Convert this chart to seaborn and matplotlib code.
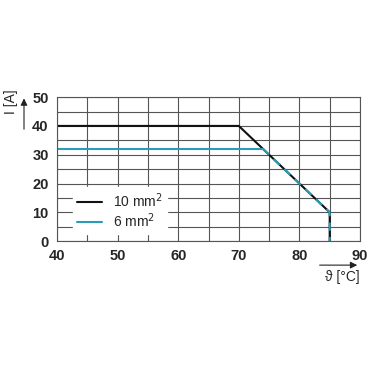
import pandas as pd
import matplotlib.pyplot as plt
import seaborn as sns

# derating curves: temperature [°C] vs current [A]
temp_10 = [40, 70, 85, 85]
curr_10 = [40, 40, 10, 0]
temp_6 = [40, 74, 85, 85]
curr_6 = [32, 32, 10, 0]
labels = ['10 mm$^2$', '6 mm$^2$']
xticks = [40, 50, 60, 70, 80, 90]
yticks = [0, 10, 20, 30, 40, 50]

sns.set_style('white')
plt.rcParams['font.family'] = ['Liberation Sans', 'DejaVu Sans']

black = '#111111'
blue = '#2a9bb8'

d10 = pd.DataFrame({'t': temp_10, 'i': curr_10})
d6 = pd.DataFrame({'t': temp_6, 'i': curr_6})

fig = plt.figure(figsize=(3.75, 3.75), dpi=100)
ax = fig.add_axes([0.152, 0.357, 0.808, 0.384])

sns.lineplot(data=d10, x='t', y='i', sort=False, estimator=None, color=black, lw=1.5,
             ax=ax, label=labels[0])
sns.lineplot(data=d6.iloc[:2], x='t', y='i', sort=False, estimator=None, color=blue, lw=1.5,
             ax=ax, label=labels[1])
# overlapping part drawn dashed in blue over the black curve
ax.plot(d6['t'][1:], d6['i'][1:], color=blue, lw=1.5, ls=(0, (4, 3)))

ax.set_xlim(40, 90)
ax.set_ylim(0, 50)
ax.set_xticks(xticks)
ax.set_xticks(range(45, 90, 10), minor=True)
ax.set_yticks(range(0, 51, 5))
ax.set_yticklabels([str(v) if v in yticks else '' for v in range(0, 51, 5)])
ax.set_xticklabels([str(v) for v in xticks])
ax.tick_params(axis='both', which='both', direction='out', length=4, width=0.8,
               color='#444444', labelsize=10.5, pad=2)
for lab in ax.get_xticklabels() + ax.get_yticklabels():
    lab.set_fontweight('bold')
ax.grid(True, which='both', color='#555555', lw=0.8)
for s in ax.spines.values():
    s.set_color('#555555')
    s.set_linewidth(0.8)
ax.set_xlabel('')
ax.set_ylabel('')

leg = ax.legend(loc='lower left', bbox_to_anchor=(0.03, 0.0), frameon=True, fancybox=False,
                edgecolor='white', framealpha=1, fontsize=10, handlelength=1.8,
                borderpad=0.3, labelspacing=0.1)

# axis labels with arrows
fig.text(0.029, 0.728, 'I [A]', rotation=90, fontsize=10, ha='center', va='center')
ax.annotate('', xy=(0.064, 0.745), xytext=(0.064, 0.648), xycoords='figure fraction',
            arrowprops=dict(arrowstyle='-|>', color='#222222', lw=0.8, mutation_scale=10))
ax.annotate('', xy=(0.96, 0.293), xytext=(0.845, 0.293), xycoords='figure fraction',
            arrowprops=dict(arrowstyle='-|>', color='#222222', lw=0.8, mutation_scale=10))
fig.text(0.912, 0.262, 'ϑ [°C]', fontsize=10, ha='center', va='center')

fig.savefig('out.png', dpi=100)
